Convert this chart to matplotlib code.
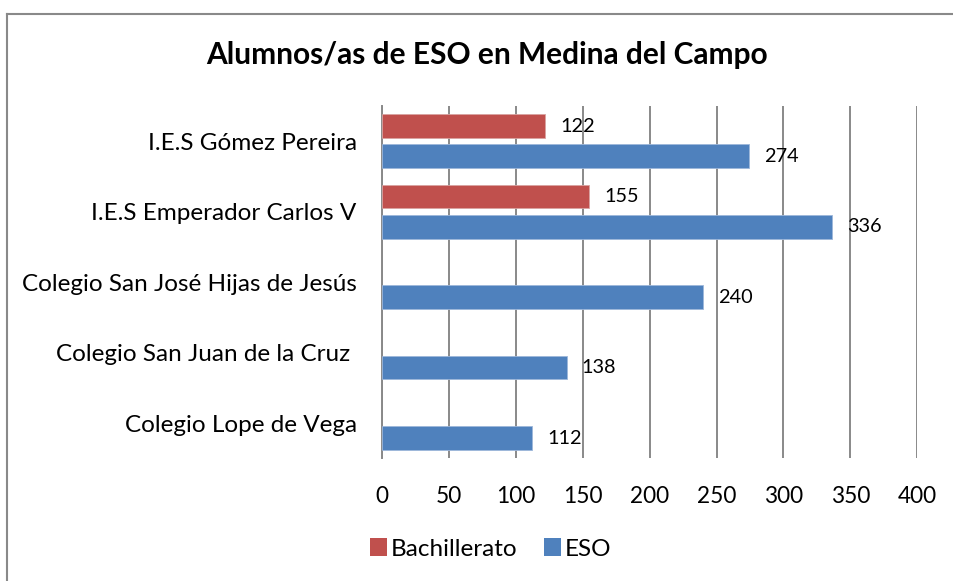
import numpy as np
import matplotlib
matplotlib.use("Agg")
import matplotlib.pyplot as plt
from matplotlib.lines import Line2D
from matplotlib.patches import Patch

plt.rcParams['font.family'] = ['Lato', 'DejaVu Sans']

title = "Alumnos/as de ESO en Medina del Campo"
categories = ["I.E.S Gómez Pereira", "I.E.S Emperador Carlos V",
              "Colegio San José Hijas de Jesús", "Colegio San Juan de la Cruz ",
              "Colegio Lope de Vega"]
bachillerato = [122, 155, np.nan, np.nan, np.nan]
eso = [274, 336, 240, 138, 112]
series_names = ["Bachillerato", "ESO"]
xticks = [0, 50, 100, 150, 200, 250, 300, 350, 400]

RED = "#C0504D"
BLUE = "#4F81BD"
GRID = "#898989"

W, H = 954, 581
fig = plt.figure(figsize=(W / 100, H / 100), dpi=100)
fig.patch.set_facecolor("white")

ax = fig.add_axes([381.7 / W, 1 - 458.3 / H, (917.4 - 381.7) / W, (458.3 - 106) / H])

y = np.arange(len(categories))
h = 0.335
off = 0.213

b = np.array(bachillerato, dtype=float)
e = np.array(eso, dtype=float)
mask = ~np.isnan(b)
ax.barh(y[mask] - off, b[mask], height=h, color=RED, edgecolor="#D9A3A1", linewidth=0.6, zorder=3)
ax.barh(y + off, e, height=h, color=BLUE, edgecolor="#9DB7DA", linewidth=0.6, zorder=3)

for yi, v in zip(y[mask] - off, b[mask]):
    ax.annotate(f"{int(v)}", (v, yi), xytext=(11, 0), textcoords="offset points",
                va="center", ha="left", fontsize=14.3, color="black", zorder=4)
for yi, v in zip(y + off, e):
    ax.annotate(f"{int(v)}", (v, yi), xytext=(11, 0), textcoords="offset points",
                va="center", ha="left", fontsize=14.3, color="black", zorder=4)

ax.set_xlim(0, 400)
ax.set_ylim(len(categories) - 0.5, -0.5)
ax.set_xticks(xticks)
ax.set_xticklabels([str(t) for t in xticks], fontsize=16.3)
ax.set_yticks(y)
ax.set_yticklabels(categories, fontsize=17.5)
ax.tick_params(axis="x", length=0, pad=20)
ax.tick_params(axis="y", length=0, pad=18)
ax.grid(axis="x", color=GRID, linewidth=1.4, zorder=0)
ax.set_axisbelow(True)
for s in ["top", "right", "bottom"]:
    ax.spines[s].set_visible(False)
ax.spines["left"].set_color(GRID)
ax.spines["left"].set_linewidth(1.4)

fig.text(487 / W, 1 - 55 / H, title, ha="center", va="center",
         fontsize=21.5, fontweight="bold")

handles = [Patch(facecolor=RED, edgecolor="none"), Patch(facecolor=BLUE, edgecolor="none")]
fig.legend(handles, series_names, loc="center", bbox_to_anchor=(491 / W, 1 - 549 / H),
           ncol=2, frameon=False, fontsize=17.5, handlelength=0.7, handleheight=0.7,
           handletextpad=0.15, columnspacing=1.1)

bx = 7.5 / W
by = 1 - 13.5 / H
fig.add_artist(Line2D([bx, bx], [-0.01, by], color=GRID, linewidth=1.5, transform=fig.transFigure))
fig.add_artist(Line2D([bx, 1.01], [by, by], color=GRID, linewidth=1.5, transform=fig.transFigure))

fig.savefig("out.png", dpi=100, facecolor="white")
